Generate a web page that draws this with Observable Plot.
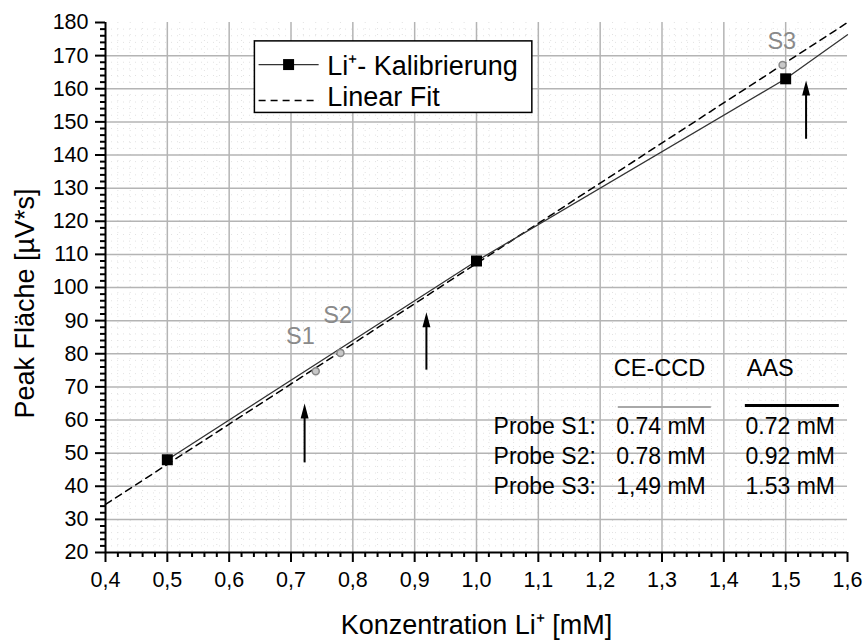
<!DOCTYPE html>
<html>
<head>
<meta charset="utf-8">
<script src="https://cdn.jsdelivr.net/npm/d3@7"></script>
<script src="https://cdn.jsdelivr.net/npm/@observablehq/plot@0.6"></script>
<style>
  html, body { margin: 0; padding: 0; background: #fff; }
  svg { display: block; }
</style>
</head>
<body>
<div id="chart"></div>
<script>
// ---------- data ----------
const calibX = [0.5, 1.0, 1.5, 1.6];
const calibY = [48, 108, 163, 176.3];
const markerX = [0.5, 1.0, 1.5];
const markerY = [48, 108, 163];
const fitX = [0.4, 1.6];
const fitY = [34.5, 180];
const sampleNames = ["S1", "S2", "S3"];
const sampleX = [0.74, 0.78, 1.495];
const sampleY = [74.7, 80.2, 167.2];
const aasX = [0.722, 0.919, 1.533];       // arrow positions
const arrowFrom = [47.2, 75.2, 144.9];
const arrowTo = [65, 92.5, 162.5];
const rowLabels = ["Probe S1:", "Probe S2:", "Probe S3:"];
const ceccdValues = ["0.74 mM", "0.78 mM", "1,49 mM"];
const aasValues = ["0.72 mM", "0.92 mM", "1.53 mM"];
const colHeaders = ["CE-CCD", "AAS"];
const legendLabels = ["Li\u207A- Kalibrierung", "Linear Fit"];
const xTicks = d3.range(4, 17).map(d => d / 10);
const yTicks = d3.range(20, 181, 10);
const xMinor = d3.range(20, 81).map(d => d / 50).filter(d => Math.abs(d * 10 - Math.round(d * 10)) > 1e-6);
const yMinor = d3.range(20, 181, 2).filter(d => d % 10 !== 0);

// ---------- build ----------
const calib = calibX.map((x, i) => ({x, y: calibY[i]}));
const markers = markerX.map((x, i) => ({x, y: markerY[i]}));
const fit = fitX.map((x, i) => ({x, y: fitY[i]}));
const samples = sampleNames.map((n, i) => ({n, x: sampleX[i], y: sampleY[i]}));
const arrows = aasX.map((x, i) => ({x, y1: arrowFrom[i], y2: arrowTo[i]}));
const font = "Liberation Sans, Arial, Helvetica, sans-serif";
const fmt = d => d.toFixed(1).replace(".", ",");

// sample label offsets (data units)
const sampleLabelPos = [{x: 0.692, y: 85.2}, {x: 0.7523, y: 91.6}, {x: 1.4705, y: 174.2}];
const sampleLabels = samples.map((s, i) => ({n: s.n, ...sampleLabelPos[i]}));

// table layout (data units)
const rowY = [58.0, 49.0, 39.9];
const tableRows = rowLabels.map((l, i) => ({l, c: ceccdValues[i], a: aasValues[i], y: rowY[i]}));
const headers = [{t: colHeaders[0], x: 1.222, y: 75.5}, {t: colHeaders[1], x: 1.437, y: 75.5}];

const arrowHead = {
  draw(context) {
    context.moveTo(0, 0);
    context.lineTo(-4, 15);
    context.lineTo(4, 15);
    context.closePath();
  }
};

// legend (data units)
const legBox = {x1: 0.6416, x2: 1.0903, y1: 152.7, y2: 174.3};
const legRows = [
  {t: legendLabels[0], y: 167.3, ty: 166.9},
  {t: legendLabels[1], y: 156.45, ty: 157.4}
];

const chart = Plot.plot({
  width: 867,
  height: 643,
  marginLeft: 105,
  marginRight: 20,
  marginTop: 22,
  marginBottom: 91,
  style: {fontFamily: font, background: "#fff", color: "#000"},
  x: {domain: [0.4, 1.6]},
  y: {domain: [20, 180]},
  marks: [
    // minor dotted grid
    Plot.ruleX(xMinor, {stroke: "#e2e2e2", strokeDasharray: "1,5", strokeWidth: 1}),
    Plot.ruleY(yMinor, {stroke: "#e2e2e2", strokeDasharray: "1,5", strokeWidth: 1}),
    // major grid
    Plot.ruleX(xTicks.filter(d => d > 0.4 && d < 1.6), {stroke: "#b4b4b4", strokeWidth: 1.5}),
    Plot.ruleY(yTicks.filter(d => d > 20 && d < 180), {stroke: "#b4b4b4", strokeWidth: 1.5}),
    // axes
    Plot.axisX({ticks: xTicks, tickSize: 10, tickPadding: 9, tickFormat: fmt, fontSize: 21.5, label: null, strokeWidth: 2}),
    Plot.axisX({ticks: xMinor, tickSize: 5, tickFormat: () => "", label: null, strokeWidth: 2}),
    Plot.axisY({ticks: yTicks, tickSize: 10, tickPadding: 7, fontSize: 21.5, label: null, strokeWidth: 2}),
    Plot.axisY({ticks: yMinor, tickSize: 5, tickFormat: () => "", label: null, strokeWidth: 2}),
    Plot.ruleY([20], {stroke: "#000", strokeWidth: 2}),
    Plot.ruleX([0.4], {stroke: "#000", strokeWidth: 2}),
    // fit & calibration lines
    Plot.line(fit, {x: "x", y: "y", stroke: "#000", strokeWidth: 1.5, strokeDasharray: "7,5"}),
    Plot.line(calib, {x: "x", y: "y", stroke: "#333", strokeWidth: 1.3}),
    Plot.dot(markers, {x: "x", y: "y", symbol: "square", r: 6.2, fill: "#000", stroke: "none"}),
    // samples
    Plot.dot(samples, {x: "x", y: "y", r: 3.5, fill: "#c8c8c8", stroke: "#888", strokeWidth: 1.5}),
    Plot.text(sampleLabels, {x: "x", y: "y", text: "n", textAnchor: "start", fontSize: 23.5, fill: "#8a8a8a"}),
    // arrows
    Plot.link(arrows, {x1: "x", x2: "x", y1: "y1", y2: d => d.y2 - 3, stroke: "#000", strokeWidth: 2}),
    Plot.dot(arrows, {x: "x", y: "y2", symbol: arrowHead, fill: "#000", stroke: "none"}),
    // table
    Plot.text(headers, {x: "x", y: "y", text: "t", textAnchor: "start", fontSize: 23.5, fill: "#000"}),
    Plot.link([{x1: 1.2285, x2: 1.379, y: 63.9}], {x1: "x1", x2: "x2", y1: "y", y2: "y", stroke: "#a8a8a8", strokeWidth: 2}),
    Plot.link([{x1: 1.434, x2: 1.586, y: 64.4}], {x1: "x1", x2: "x2", y1: "y", y2: "y", stroke: "#000", strokeWidth: 3}),
    Plot.text(tableRows, {x: 1.193, y: "y", text: "l", textAnchor: "end", fontSize: 23, fill: "#000"}),
    Plot.text(tableRows, {x: 1.226, y: "y", text: "c", textAnchor: "start", fontSize: 23, fill: "#000"}),
    Plot.text(tableRows, {x: 1.435, y: "y", text: "a", textAnchor: "start", fontSize: 23, fill: "#000"}),
    // legend
    Plot.rect([legBox], {x1: "x1", x2: "x2", y1: "y1", y2: "y2", fill: "#fff", stroke: "#000", strokeWidth: 1.5}),
    Plot.link([legRows[0]], {x1: 0.6476, x2: 0.7447, y1: "y", y2: "y", stroke: "#333", strokeWidth: 1.3}),
    Plot.dot([legRows[0]], {x: 0.6961, y: "y", symbol: "square", r: 6.2, fill: "#000"}),
    Plot.link([legRows[1]], {x1: 0.6476, x2: 0.7447, y1: "y", y2: "y", stroke: "#000", strokeWidth: 1.5, strokeDasharray: "7,5"}),
    Plot.text(legRows, {x: 0.7587, y: "ty", text: "t", textAnchor: "start", fontSize: 27, fill: "#000"}),
    // axis titles
    Plot.text(["Konzentration Li\u207A [mM]"], {frameAnchor: "bottom", textAnchor: "middle", lineAnchor: "middle", dy: 73, fontSize: 27, fill: "#000"}),
    Plot.text(["Peak Fläche [µV*s]"], {frameAnchor: "left", textAnchor: "middle", lineAnchor: "middle", rotate: -90, dx: -80, dy: 16, fontSize: 27, fill: "#000"})
  ]
});
document.getElementById("chart").appendChild(chart);
</script>
</body>
</html>
